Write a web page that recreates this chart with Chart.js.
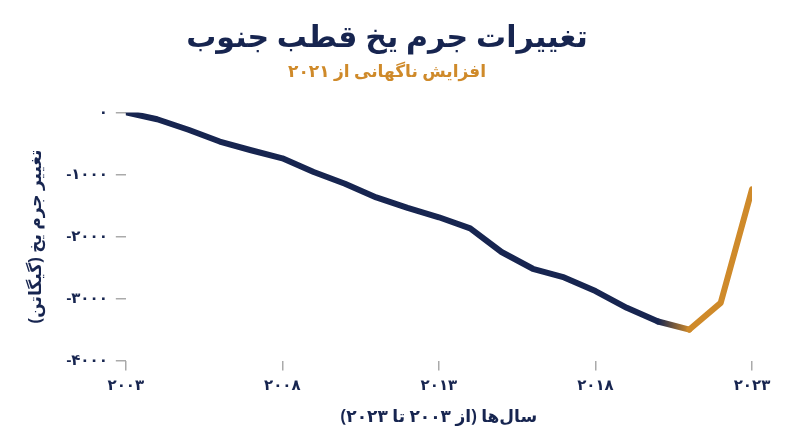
<!DOCTYPE html>
<html><head><meta charset="utf-8">
<script src="https://cdn.jsdelivr.net/npm/chart.js@4"></script>
<style>html,body{margin:0;background:#fff}#w{width:800px;height:447px}</style>
</head><body><div id="w"><canvas id="c"></canvas></div>
<script>
const years=[2003,2004,2005,2006,2007,2008,2009,2010,2011,2012,2013,2014,2015,2016,2017,2018,2019,2020,2021,2022,2023];
const massChange=[0,-110,-280,-470,-610,-740,-960,-1150,-1370,-1540,-1690,-1870,-2250,-2520,-2660,-2880,-3150,-3370,-3500,-3070,-1240];
const xTickLabels={2003:'۲۰۰۳',2008:'۲۰۰۸',2013:'۲۰۱۳',2018:'۲۰۱۸',2023:'۲۰۲۳'};
const yTickLabels={'0':'۰','-1000':'\u200E-\u200E۱۰۰۰','-2000':'\u200E-\u200E۲۰۰۰','-3000':'\u200E-\u200E۳۰۰۰','-4000':'\u200E-\u200E۴۰۰۰'};
const navy='#172550', orange='#cf8a2a';
const F='"Noto Sans","DejaVu Sans",sans-serif';
new Chart(document.getElementById('c'),{
 type:'line',
 data:{datasets:[{data:years.map((y,i)=>({x:y,y:massChange[i]})),borderWidth:6,pointRadius:0,tension:0,borderCapStyle:'round',borderJoinStyle:'round',
  segment:{borderColor:ctx=>{const i=ctx.p0DataIndex;if(i<17)return navy;if(i>17)return orange;
   const g=ctx.chart.ctx.createLinearGradient(ctx.p0.x,0,ctx.p1.x,0);g.addColorStop(0,navy);g.addColorStop(1,orange);return g;}}}]},
 options:{responsive:true,maintainAspectRatio:false,animation:false,
  layout:{padding:{left:22,right:48,top:14,bottom:16}},
  plugins:{legend:{display:false},tooltip:{enabled:false},
   title:{display:true,text:'تغییرات جرم یخ قطب جنوب',color:navy,font:{family:F,size:30,weight:'bold'},padding:{top:6,bottom:6}},
   subtitle:{display:true,text:'افزایش ناگهانی از ۲۰۲۱',color:orange,font:{family:F,size:17,weight:'bold'},padding:{bottom:30}}},
  scales:{
   x:{type:'linear',min:2003,max:2023,border:{display:false},
    grid:{drawOnChartArea:false,color:'#aaa',tickLength:10,lineWidth:1.5},
    afterBuildTicks:a=>{a.ticks=Object.keys(xTickLabels).map(v=>({value:+v}));},
    ticks:{callback:v=>xTickLabels[v]||'',color:navy,font:{family:F,size:15,weight:'bold'},padding:6,maxRotation:0},
    title:{display:true,text:'سال‌ها (از ۲۰۰۳ تا ۲۰۲۳)',color:navy,font:{family:F,size:17,weight:'bold'},padding:{top:6}}},
   y:{min:-4000,max:0,border:{display:false},
    grid:{drawOnChartArea:false,color:'#aaa',tickLength:10,lineWidth:1.5},
    afterBuildTicks:a=>{a.ticks=Object.keys(yTickLabels).map(v=>({value:+v}));},
    ticks:{callback:v=>yTickLabels[String(v)]||'',color:navy,font:{family:F,size:15,weight:'bold'},padding:8},
    title:{display:true,text:'تغییر جرم یخ (گیگاتن)',color:navy,font:{family:F,size:17,weight:'bold'},padding:{bottom:12}}}
  }}
});
</script></body></html>
